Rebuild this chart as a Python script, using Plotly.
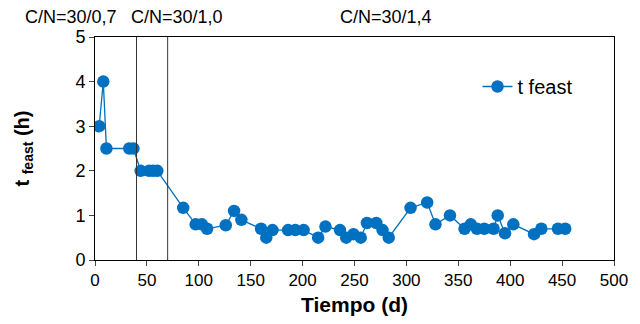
import plotly.graph_objects as go

days = [4, 8, 11, 33, 37, 44, 52, 56, 60, 85, 97, 103, 108, 126, 134, 141, 160, 165, 171,
        186, 193, 201, 215, 222, 236, 242, 249, 256, 262, 271, 277, 283, 304, 320, 328,
        342, 356, 362, 368, 375, 384, 388, 395, 403, 423, 430, 446, 453]
t_feast = [3, 4, 2.5, 2.5, 2.5, 2.0, 2.0, 2.0, 2.0, 1.17, 0.8, 0.8, 0.7, 0.78, 1.1, 0.9, 0.7,
           0.5, 0.67, 0.67, 0.67, 0.67, 0.5, 0.75, 0.67, 0.5, 0.58, 0.5, 0.83, 0.83, 0.67,
           0.5, 1.17, 1.29, 0.8, 1.0, 0.7, 0.8, 0.7, 0.7, 0.7, 1.0, 0.6, 0.8, 0.58, 0.7,
           0.7, 0.7]
phase_changes = [40, 70]
phase_labels = ["C/N=30/0,7", "C/N=30/1,0", "C/N=30/1,4"]
x_ticks = list(range(0, 501, 50))
y_ticks = [0, 1, 2, 3, 4, 5]

# label placement (paper coordinates)
phase_label_pos = [-0.047, 0.158, 0.561]

blue = "#0070C0"
font = "Liberation Sans, Arial, sans-serif"

fig = go.Figure()
fig.add_trace(go.Scatter(
    x=days, y=t_feast, mode="lines+markers", name="t feast",
    line=dict(color=blue, width=1.3),
    marker=dict(color=blue, size=12.5),
))

for xv in phase_changes:
    fig.add_shape(type="line", xref="x", yref="y", x0=xv, x1=xv, y0=0, y1=5,
                  line=dict(color="#333333", width=1))

for lab, px in zip(phase_labels, phase_label_pos):
    fig.add_annotation(text=lab, x=px, xref="paper", y=1.089, yref="paper",
                       xanchor="center", yanchor="middle",
                       showarrow=False, font=dict(size=18, color="black", family=font))

fig.update_xaxes(range=[0, 500], tickvals=x_ticks, ticks="outside", ticklen=5,
                 showline=True, linecolor="black", linewidth=1, mirror=True,
                 showgrid=False, zeroline=False,
                 tickfont=dict(size=17, color="black", family=font),
                 title=dict(text="<b>Tiempo (d)</b>", font=dict(size=21, color="black", family=font), standoff=7))
fig.update_yaxes(range=[0, 5], tickvals=y_ticks, ticks="outside", ticklen=5,
                 showline=True, linecolor="black", linewidth=1, mirror=True,
                 showgrid=False, zeroline=False,
                 tickfont=dict(size=18, color="black", family=font),
                 title=dict(text="<b>t <sub>feast</sub> (h)</b>", font=dict(size=20, color="black", family=font), standoff=40))

fig.update_layout(
    width=640, height=324,
    margin=dict(l=95, r=19, t=37, b=62),
    plot_bgcolor="white", paper_bgcolor="white",
    showlegend=True,
    legend=dict(x=0.737, y=0.778, xanchor="left", yanchor="middle",
                font=dict(size=20, color="black", family=font), bgcolor="rgba(0,0,0,0)"),
    font=dict(family=font),
)

fig.write_html("out.html")
